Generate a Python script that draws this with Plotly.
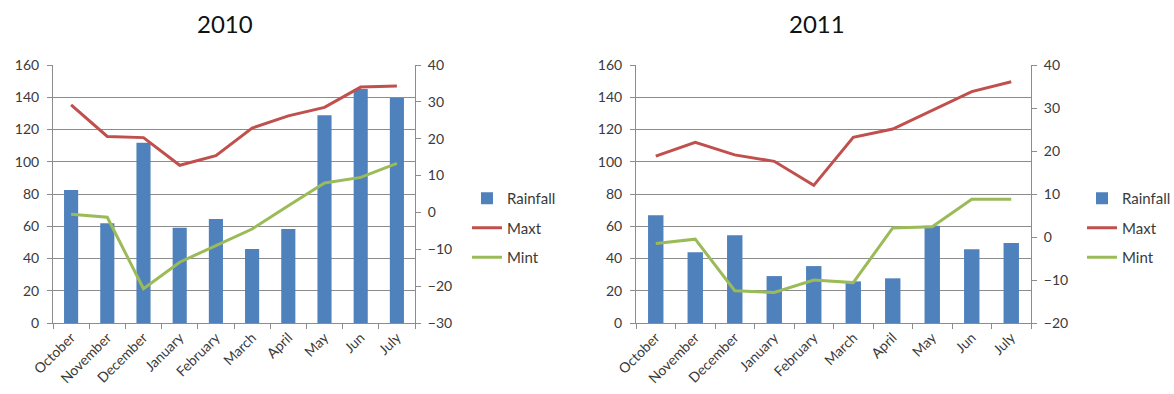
import plotly.graph_objects as go
from plotly.subplots import make_subplots

# Monthly rainfall (mm, left axis) and temperature extremes (°C, right axis)
months = ["October", "November", "December", "January", "February",
          "March", "April", "May", "Jun", "July"]

rain_2010 = [82.5, 61.8, 111.8, 59.1, 64.5, 45.9, 58.3, 128.8, 145.1, 139.5]
maxt_2010 = [29.2, 20.6, 20.3, 12.8, 15.4, 22.9, 26.2, 28.5, 34.0, 34.3]
mint_2010 = [-0.5, -1.3, -20.7, -13.5, -9.0, -4.5, 1.8, 8.0, 9.5, 13.3]

rain_2011 = [66.8, 43.8, 54.4, 29.1, 35.3, 25.8, 27.7, 60.3, 45.7, 49.6]
maxt_2011 = [18.8, 22.0, 19.1, 17.6, 12.0, 23.2, 25.1, 29.4, 33.8, 36.1]
mint_2011 = [-1.5, -0.5, -12.5, -12.9, -10.0, -10.6, 2.1, 2.4, 8.8, 8.8]

titles = ["2010", "2011"]

BLUE = "#4F81BD"
RED = "#C0504D"
GREEN = "#9BBB59"
AXIS = "#8C8C8C"
TEXT = "#3a3a3a"
FONT = "Lato"

W, H = 1174, 394

fig = make_subplots(rows=1, cols=2,
                    specs=[[{"secondary_y": True}, {"secondary_y": True}]])

panels = [
    (1, rain_2010, maxt_2010, mint_2010, "legend"),
    (2, rain_2011, maxt_2011, mint_2011, "legend2"),
]
for col, rain, maxt, mint, leg in panels:
    fig.add_trace(go.Bar(x=months, y=rain, name="Rainfall", marker_color=BLUE,
                         marker_line_width=0, legend=leg, legendgroup=f"r{col}"),
                  row=1, col=col, secondary_y=False)
    fig.add_trace(go.Scatter(x=months, y=maxt, name="Maxt", mode="lines",
                             line=dict(color=RED, width=3), legend=leg,
                             legendgroup=f"x{col}"),
                  row=1, col=col, secondary_y=True)
    fig.add_trace(go.Scatter(x=months, y=mint, name="Mint", mode="lines",
                             line=dict(color=GREEN, width=3), legend=leg,
                             legendgroup=f"n{col}"),
                  row=1, col=col, secondary_y=True)

ydom = [1 - 323 / H, 1 - 65 / H]

xcommon = dict(type="category", tickson="boundaries", ticks="outside", ticklen=5,
               tickcolor=AXIS, showline=True, linecolor=AXIS, linewidth=1,
               showgrid=False, tickangle=-45, automargin=False,
               tickfont=dict(family=FONT, size=14, color=TEXT))
yleft = dict(range=[0, 160], dtick=20, ticks="outside", ticklen=5, tickcolor=AXIS,
             showline=True, linecolor=AXIS, linewidth=1, showgrid=True,
             gridcolor=AXIS, gridwidth=1, zeroline=False, domain=ydom,
             automargin=False, ticklabelstandoff=5,
             tickfont=dict(family=FONT, size=14, color=TEXT))
yright = dict(dtick=10, ticks="outside", ticklen=5, tickcolor=AXIS,
              showline=True, linecolor=AXIS, linewidth=1, showgrid=False,
              zeroline=False, automargin=False, ticklabelstandoff=4,
              tickfont=dict(family=FONT, size=14, color=TEXT))

legend_style = dict(xanchor="left", yanchor="top", tracegroupgap=7,
                    traceorder="grouped", bgcolor="rgba(0,0,0,0)",
                    font=dict(family=FONT, size=15, color=TEXT))

fig.update_layout(
    width=W, height=H,
    margin=dict(l=0, r=0, t=0, b=0, autoexpand=False),
    paper_bgcolor="white", plot_bgcolor="white",
    bargap=0.61,
    font=dict(family=FONT, color=TEXT),
    xaxis=dict(domain=[53 / W, 415 / W], **xcommon),
    xaxis2=dict(domain=[636 / W, 1031 / W], **xcommon),
    yaxis=yleft,
    yaxis2=dict(range=[-30, 40], **yright),
    yaxis3=yleft,
    yaxis4=dict(range=[-20, 40], **yright),
    legend=dict(x=467 / W, y=1 - 182 / H, **legend_style),
    legend2=dict(x=1082 / W, y=1 - 182 / H, **legend_style),
)

for t, cx in zip(titles, [225, 817]):
    fig.add_annotation(text=t, x=cx / W, y=1 - 24 / H, xref="paper", yref="paper",
                       xanchor="center", yanchor="middle", showarrow=False,
                       font=dict(family=FONT, size=24, color="#111111"))

fig.write_html("out.html")
